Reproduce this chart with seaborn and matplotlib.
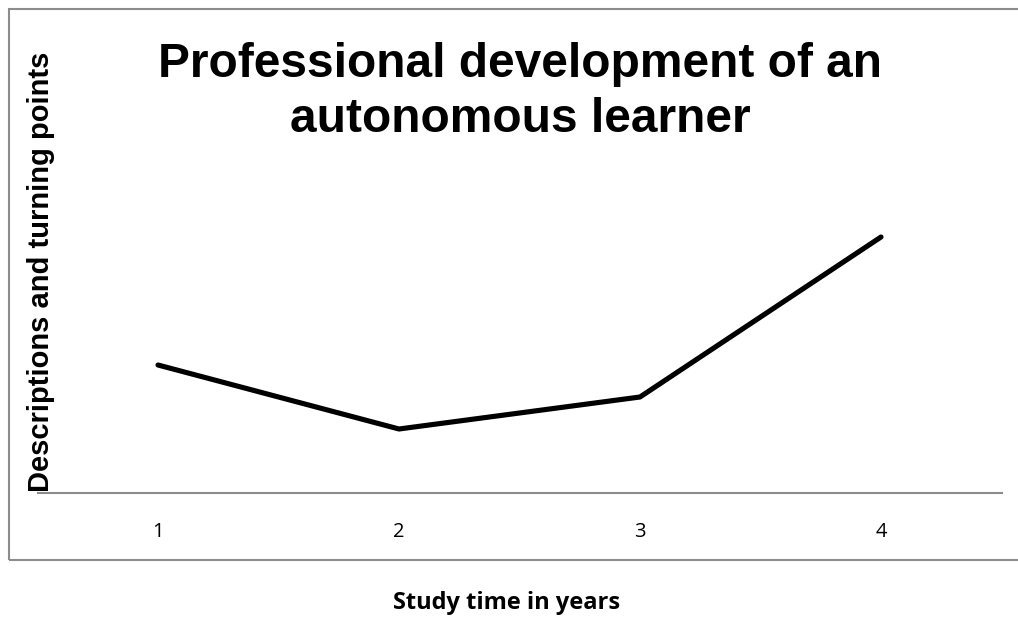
import matplotlib
matplotlib.use("Agg")
import matplotlib.pyplot as plt
import seaborn as sns
import pandas as pd
from matplotlib.patches import Rectangle

sns.set_style("white")

years = [1, 2, 3, 4]
descriptions = [2, 1, 1.5, 4]
title = "Professional development of an\nautonomous learner"
x_label = "Study time in years"
y_label = "Descriptions and turning points"

df = pd.DataFrame({"year": years, "value": descriptions})

W, H = 1018, 617
fig = plt.figure(figsize=(W / 100, H / 100), dpi=100)

# plot area: x 37.5..1001.5 px, baseline at y=493 px
ax = fig.add_axes([37.5 / W, (H - 493) / H, 964 / W, 448 / H])
sns.lineplot(data=df, x="year", y="value", color="black", linewidth=3.7, ax=ax)
ax.set_xlim(0.5, 4.5)
ax.set_ylim(0, 7)
ax.set_xticks(years)
ax.set_xticklabels([str(y) for y in years], fontsize=14.5, family="Open Sans",
                   color="black")
ax.tick_params(axis="x", length=0, pad=21)
ax.set_yticks([])
ax.set_xlabel("")
ax.set_ylabel("")
for side in ["top", "right", "left"]:
    ax.spines[side].set_visible(False)
ax.spines["bottom"].set_color("#8c8c8c")
ax.spines["bottom"].set_linewidth(1.5)

# outer chart frame
fig.patches.append(
    Rectangle((9 / W, (H - 560) / H), 1.0, 551 / H, transform=fig.transFigure,
              fill=False, edgecolor="#8c8c8c", linewidth=1.5)
)

fig.text(520 / W, 1 - 92 / H, title, ha="center", va="center", color="black",
         fontsize=34.5, fontweight="bold", family="Liberation Sans", linespacing=1.26)
fig.text(41 / W, 1 - 272 / H, y_label, rotation=90, ha="center", va="center",
         color="black", fontsize=21, fontweight="bold", family="Liberation Sans")
fig.text(507 / W, 1 - 603 / H, x_label, ha="center", va="center", color="black",
         fontsize=17, fontweight="bold", family="Open Sans")

fig.savefig("out.png", dpi=100)
